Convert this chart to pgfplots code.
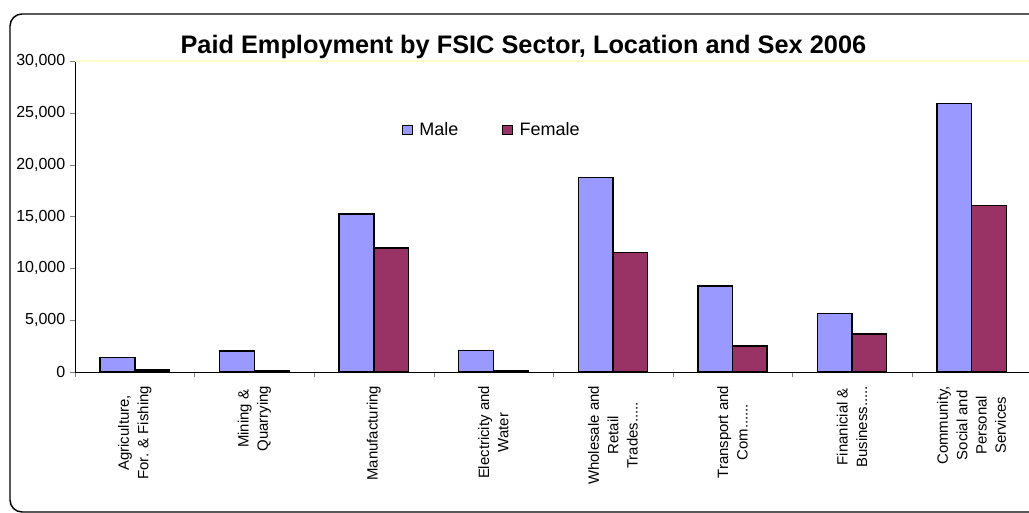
\documentclass[border=0pt]{standalone}
\usepackage{pgfplots}
\pgfplotsset{compat=1.18}
\usepackage{fontspec}
\setmainfont{Liberation Sans}
\definecolor{male}{RGB}{153,153,255}
\definecolor{female}{RGB}{153,51,102}
\definecolor{paleyel}{RGB}{255,255,200}
\newcommand\fived{.....}
\newcommand\sixd{......}
\begin{document}
\begin{tikzpicture}
\useasboundingbox (-56.25pt,-105.75pt) rectangle (715.5pt,279pt);
\draw[line width=1.1pt, rounded corners=9pt] (-48.75pt,-105pt) rectangle (735pt,268.5pt);
\begin{axis}[
  at={(0pt,0pt)}, anchor=south west,
  scale only axis, width=715.5pt, height=233.25pt,
  xmin=-0.5, xmax=7.48, ymin=0, ymax=30000,
  axis lines*=left,
  axis line style={line width=0.6pt},
  tick align=outside,
  major tick length=3.75pt,
  xtick={-0.5,0.5,1.5,2.5,3.5,4.5,5.5,6.5,7.5},
  xticklabels={},
  extra x ticks={0,1,2,3,4,5,6,7},
  extra x tick labels={{Agriculture,\\For. \& Fishing},{Mining \&\\Quarrying},{Manufacturing},{Electricity and\\Water},{Wholesale and\\Retail\\Trades\fived},{Transport and\\Com\sixd},{Finanicial \&\\Business\fived},{Community,\\Social and\\Personal\\Services}},
  extra x tick style={major tick length=0pt, tick label style={rotate=90, anchor=east, align=center, font=\fontsize{11.2}{14.5}\selectfont, xshift=-7pt}},
  ytick={0,5000,10000,15000,20000,25000,30000},
  scaled y ticks=false,
  yticklabel style={font=\fontsize{12}{14}\selectfont, /pgf/number format/1000 sep={,}, /pgf/number format/assume math mode=true},
  clip=false,
  title={\bfseries Paid Employment by FSIC Sector, Location and Sex 2006},
  title style={font=\fontsize{19}{22}\selectfont, at={(0.47,1)}, yshift=-8pt},
  legend style={at={(0.338,0.778)}, anchor=west, draw=none, fill=none, font=\fontsize{13.5}{16}\selectfont, /tikz/every odd column/.append style={column sep=3pt}, /tikz/every even column/.append style={column sep=30.5pt}},
  legend columns=2,
  legend image code/.code={\draw[#1, line width=0.8pt] (-5pt,-3.6pt) rectangle (2.5pt,3.6pt);},
]
\draw[paleyel, line width=0.8pt] (rel axis cs:0,1) -- (rel axis cs:1,1);
\addplot[ybar, bar width=0.29, bar shift=-0.145, fill=male, draw=black, line width=1.1pt]
  coordinates {(0,1380) (1,2030) (2,15240) (3,2060) (4,18740) (5,8300) (6,5660) (7,25920)};
\addplot[ybar, bar width=0.29, bar shift=0.145, fill=female, draw=black, line width=1.1pt]
  coordinates {(0,200) (1,100) (2,11960) (3,100) (4,11510) (5,2510) (6,3670) (7,16040)};
\legend{Male,Female}
\end{axis}
\end{tikzpicture}
\end{document}
